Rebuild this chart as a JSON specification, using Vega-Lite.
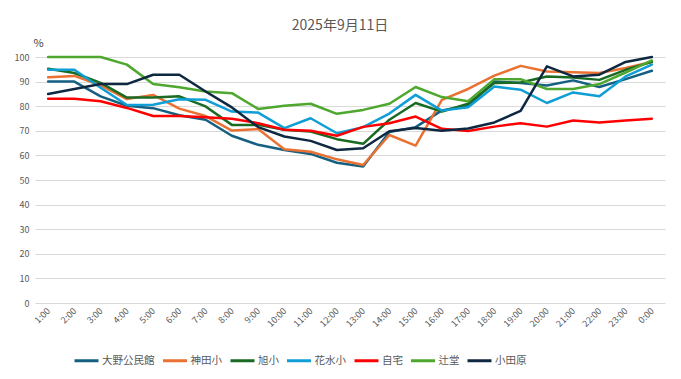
{
  "$schema": "https://vega.github.io/schema/vega-lite/v6.json",
  "autosize": "none",
  "width": 630,
  "height": 246,
  "padding": {"left": 35, "top": 57, "right": 16, "bottom": 76},
  "background": "white",
  "title": {"text": "2025年9月11日", "anchor": "middle", "frame": "group", "dx": -10, "offset": 4, "fontSize": 14, "color": "#595959", "fontWeight": "normal", "font": "Noto Sans CJK JP"},
  "data": {"values": [
    {"t": "1:00", "大野公民館": 90, "神田小": 91.8, "旭小": 95.2, "花水小": 94.8, "自宅": 83, "辻堂": 100, "小田原": 85},
    {"t": "2:00", "大野公民館": 90, "神田小": 92.3, "旭小": 93.5, "花水小": 94.8, "自宅": 83, "辻堂": 100, "小田原": 87},
    {"t": "3:00", "大野公民館": 84, "神田小": 88.5, "旭小": 89.5, "花水小": 87.5, "自宅": 82, "辻堂": 100, "小田原": 89},
    {"t": "4:00", "大野公民館": 80.2, "神田小": 82.9, "旭小": 83.5, "花水小": 80.5, "自宅": 79.3, "辻堂": 96.9, "小田原": 89},
    {"t": "5:00", "大野公民館": 79.2, "神田小": 84.6, "旭小": 83.5, "花水小": 80.6, "自宅": 76, "辻堂": 89, "小田原": 92.8},
    {"t": "6:00", "大野公民館": 76.3, "神田小": 79, "旭小": 84, "花水小": 82.8, "自宅": 76, "辻堂": 87.7, "小田原": 92.8},
    {"t": "7:00", "大野公民館": 74.5, "神田小": 76, "旭小": 79.9, "花水小": 82.6, "自宅": 75.5, "辻堂": 86, "小田原": 86},
    {"t": "8:00", "大野公民館": 68, "神田小": 70.1, "旭小": 72.4, "花水小": 77.8, "自宅": 74.9, "辻堂": 85.3, "小田原": 79.5},
    {"t": "9:00", "大野公民館": 64.3, "神田小": 70.7, "旭小": 72.4, "花水小": 77.4, "自宅": 73.1, "辻堂": 78.9, "小田原": 71.5},
    {"t": "10:00", "大野公民館": 62.2, "神田小": 62.5, "旭小": 70.4, "花水小": 71.1, "自宅": 70.4, "辻堂": 80.2, "小田原": 67.7},
    {"t": "11:00", "大野公民館": 60.6, "神田小": 61.5, "旭小": 69.7, "花水小": 75.1, "自宅": 70, "辻堂": 81, "小田原": 65.9},
    {"t": "12:00", "大野公民館": 57, "神田小": 58.4, "旭小": 66.6, "花水小": 69, "自宅": 68, "辻堂": 76.9, "小田原": 62.2},
    {"t": "13:00", "大野公民館": 55.5, "神田小": 56.1, "旭小": 64.7, "花水小": 71.5, "自宅": 71.6, "辻堂": 78.5, "小田原": 62.9},
    {"t": "14:00", "大野公民館": 69.5, "神田小": 68.3, "旭小": 74.5, "花水小": 77, "自宅": 73.1, "辻堂": 81, "小田原": 69.8},
    {"t": "15:00", "大野公民館": 71.5, "神田小": 64, "旭小": 81.3, "花水小": 84.6, "自宅": 75.8, "辻堂": 87.8, "小田原": 71.1},
    {"t": "16:00", "大野公民館": 78.3, "神田小": 82.6, "旭小": 77.8, "花水小": 78.2, "自宅": 70.8, "辻堂": 83.7, "小田原": 70},
    {"t": "17:00", "大野公民館": 80.3, "神田小": 87, "旭小": 81, "花水小": 79.6, "自宅": 69.9, "辻堂": 82, "小田原": 70.9},
    {"t": "18:00", "大野公民館": 90, "神田小": 92.4, "旭小": 89.4, "花水小": 88, "自宅": 71.7, "辻堂": 91, "小田原": 73.4},
    {"t": "19:00", "大野公民館": 89.4, "神田小": 96.4, "旭小": 89.6, "花水小": 86.7, "自宅": 73.1, "辻堂": 91, "小田原": 78.1},
    {"t": "20:00", "大野公民館": 88.4, "神田小": 94.1, "旭小": 92.1, "花水小": 81.3, "自宅": 71.7, "辻堂": 87, "小田原": 96.2},
    {"t": "21:00", "大野公民館": 90.5, "神田小": 93.8, "旭小": 91.7, "花水小": 85.6, "自宅": 74.2, "辻堂": 87, "小田原": 92.1},
    {"t": "22:00", "大野公民館": 87.8, "神田小": 93.5, "旭小": 90.7, "花水小": 84, "自宅": 73.4, "辻堂": 89, "小田原": 92.8},
    {"t": "23:00", "大野公民館": 91, "神田小": 95.5, "旭小": 94.8, "花水小": 92.1, "自宅": 74.2, "辻堂": 93.7, "小田原": 98},
    {"t": "0:00", "大野公民館": 94.4, "神田小": 98, "旭小": 98, "花水小": 96.9, "自宅": 74.9, "辻堂": 98.6, "小田原": 100}
  ]},
  "transform": [
    {"fold": ["大野公民館", "神田小", "旭小", "花水小", "自宅", "辻堂", "小田原"], "as": ["site", "v"]}
  ],
  "mark": {"type": "line", "strokeWidth": 2.5, "strokeCap": "round", "strokeJoin": "round"},
  "encoding": {
    "x": {
      "field": "t", "type": "ordinal",
      "sort": ["1:00","2:00","3:00","4:00","5:00","6:00","7:00","8:00","9:00","10:00","11:00","12:00","13:00","14:00","15:00","16:00","17:00","18:00","19:00","20:00","21:00","22:00","23:00","0:00"],
      "scale": {"type": "point", "padding": 0.5},
      "axis": {"title": null, "labelAngle": -45, "labelAlign": "right", "labelBaseline": "middle", "labelPadding": 6, "domain": false, "ticks": false, "grid": false, "labelColor": "#595959", "labelFontSize": 9, "labelFont": "Noto Sans CJK JP"}
    },
    "y": {
      "field": "v", "type": "quantitative",
      "scale": {"domain": [0, 100], "nice": false},
      "axis": {"values": [0,10,20,30,40,50,60,70,80,90,100], "title": "%", "titleAngle": 0, "titleX": 3, "titleY": -9, "titleAlign": "center", "titleBaseline": "bottom", "titleFontWeight": "normal", "titleFontSize": 11, "titleColor": "#404040", "titleFont": "Noto Sans CJK JP", "domain": false, "ticks": false, "grid": true, "gridColor": "#D9D9D9", "gridWidth": 1, "labelColor": "#595959", "labelFontSize": 9, "labelPadding": 6, "labelFont": "Noto Sans CJK JP"}
    },
    "color": {
      "field": "site", "type": "nominal",
      "sort": ["大野公民館", "神田小", "旭小", "花水小", "自宅", "辻堂", "小田原"],
      "scale": {"domain": ["大野公民館", "神田小", "旭小", "花水小", "自宅", "辻堂", "小田原"], "range": ["#156082", "#E97132", "#196B24", "#0F9ED5", "#FF0000", "#4EA72E", "#0E2841"]},
      "legend": {"orient": "none", "legendX": 38, "legendY": 290, "direction": "horizontal", "title": null, "symbolType": "stroke", "symbolSize": 576, "symbolStrokeWidth": 3, "labelOffset": 2, "columnPadding": 1.5, "labelFontSize": 10.5, "labelColor": "#595959", "labelFont": "Noto Sans CJK JP"}
    }
  },
  "config": {"view": {"stroke": null}}
}
